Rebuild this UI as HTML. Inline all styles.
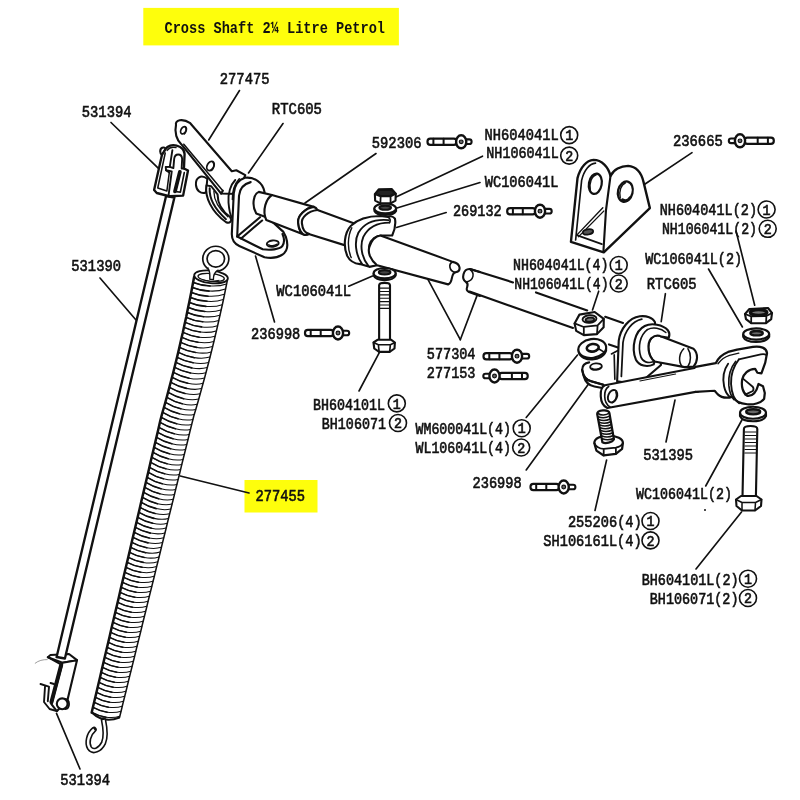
<!DOCTYPE html>
<html lang="en"><head><meta charset="utf-8"><title>Cross Shaft 2¼ Litre Petrol</title>
<style>
html,body{margin:0;padding:0;background:#fff;}
body{width:800px;height:800px;overflow:hidden;}
svg{display:block;}
.t{font-family:"Liberation Mono", "DejaVu Sans Mono", monospace;fill:#111;stroke:#111;stroke-width:.62px;}
.tb{font-family:"Liberation Mono", "DejaVu Sans Mono", monospace;font-weight:bold;fill:#111;}
.tc{font-family:"Liberation Mono", "DejaVu Sans Mono", monospace;fill:#111;stroke:#111;stroke-width:.7px;}
.l{fill:none;stroke:#111;stroke-linecap:round;stroke-linejoin:round;}
.lw{fill:#fff;stroke:#111;stroke-linecap:round;stroke-linejoin:round;}
.z path,.z ellipse,.z circle,.z line,.z polyline,.z polygon,.z rect{vector-effect:non-scaling-stroke;}
</style></head><body>
<svg width="800" height="800" viewBox="0 0 800 800" style="will-change:transform;transform:translateZ(0)">
<rect width="800" height="800" fill="#fff"/>
<rect x="143.3" y="7.9" width="255.6" height="37.5" fill="#fefe0c"/>
<rect x="244.5" y="480" width="73" height="32.5" fill="#fefe0c"/>
<line class="l" x1="239.5" y1="90.5" x2="208.7" y2="140.0" stroke-width="1.65"/>
<line class="l" x1="111.0" y1="122.5" x2="158.7" y2="168.7" stroke-width="1.65"/>
<line class="l" x1="283.0" y1="123.5" x2="248.5" y2="173.0" stroke-width="1.65"/>
<line class="l" x1="376.0" y1="153.5" x2="305.0" y2="203.0" stroke-width="1.65"/>
<line class="l" x1="482.5" y1="156.2" x2="396.0" y2="197.0" stroke-width="1.65"/>
<line class="l" x1="480.0" y1="182.5" x2="397.0" y2="208.0" stroke-width="1.65"/>
<line class="l" x1="446.2" y1="212.5" x2="396.5" y2="227.5" stroke-width="1.65"/>
<line class="l" x1="692.0" y1="152.6" x2="644.7" y2="184.2" stroke-width="1.65"/>
<line class="l" x1="736.0" y1="231.0" x2="754.7" y2="305.2" stroke-width="1.65"/>
<line class="l" x1="708.5" y1="269.0" x2="742.4" y2="327.0" stroke-width="1.65"/>
<line class="l" x1="665.4" y1="293.7" x2="661.2" y2="321.7" stroke-width="1.65"/>
<line class="l" x1="598.7" y1="291.2" x2="592.5" y2="310.0" stroke-width="1.65"/>
<line class="l" x1="348.7" y1="286.2" x2="372.5" y2="276.0" stroke-width="1.65"/>
<line class="l" x1="255.5" y1="256.0" x2="274.5" y2="322.0" stroke-width="1.65"/>
<line class="l" x1="100.0" y1="278.0" x2="136.0" y2="320.0" stroke-width="1.65"/>
<line class="l" x1="427.5" y1="278.7" x2="460.3" y2="339.7" stroke-width="1.65"/>
<line class="l" x1="477.0" y1="295.6" x2="460.3" y2="339.7" stroke-width="1.65"/>
<line class="l" x1="379.7" y1="351.9" x2="359.0" y2="391.0" stroke-width="1.65"/>
<line class="l" x1="526.2" y1="417.5" x2="577.5" y2="355.0" stroke-width="1.65"/>
<line class="l" x1="526.2" y1="470.0" x2="588.7" y2="383.7" stroke-width="1.65"/>
<line class="l" x1="675.0" y1="400.0" x2="666.0" y2="442.0" stroke-width="1.65"/>
<line class="l" x1="743.0" y1="418.0" x2="705.7" y2="486.0" stroke-width="1.65"/>
<line class="l" x1="606.6" y1="460.0" x2="595.0" y2="510.5" stroke-width="1.65"/>
<line class="l" x1="741.5" y1="512.0" x2="696.0" y2="569.0" stroke-width="1.65"/>
<line class="l" x1="180.2" y1="476.0" x2="249.0" y2="493.0" stroke-width="1.65"/>
<line class="l" x1="56.5" y1="713.4" x2="80.0" y2="769.0" stroke-width="1.65"/>
<circle cx="705" cy="510" r="1" fill="#111"/>
<g class="z" transform="translate(30,640) scale(0.1)" stroke="#111" stroke-width="2.12" fill="none" stroke-linejoin="round" stroke-linecap="round">
<!-- bottom clevis 531394 ; coords = zoom px of [30,640,100,720] (10x) -->
<path d="M105 440 L188 466 M150 468 L140 620 L196 690 L268 712 M190 468 L178 612 M205 430 L240 440" stroke-width="1.89"/>
<path d="M178 172 L205 150 L390 140 L470 202 L325 228 Z" fill="#fff"/>
<path d="M325 228 L470 202 L376 596 L268 712 L214 642 Z" fill="#fff"/>
<path d="M178 172 L300 238" stroke-width="1.89"/>
<path d="M312 250 L214 622" stroke-width="4.01"/>
<path d="M350 588 C404 594 404 684 352 692" stroke-width="1.77" fill="#fff"/>
<circle cx="322" cy="638" r="54" fill="#fff" stroke-width="2.12"/>
<path d="M52 232 C85 205 130 195 172 196" stroke-width="0.83" stroke="#888"/>
</g>

<g id="rod">
<path d="M166.1 196 L56.6 657 L64.9 658.5 L174.4 197.5 Z" fill="#fff" stroke="#111" stroke-width="2.36" stroke-linejoin="round"/>
</g>
<g id="spring">
<ellipse cx="215.8" cy="258.8" rx="10.9" ry="10.4" fill="none" stroke="#111" stroke-width="6"/>
<ellipse cx="215.8" cy="258.8" rx="10.9" ry="10.4" fill="none" stroke="#fff" stroke-width="2.6"/>
<path d="M207.6 267.5 C209.5 270 209.8 274 209.6 279 L213.6 279.5 C213.4 275 215 271.5 218.5 269.8" fill="#fff" stroke="#111" stroke-width="1.3" stroke-linejoin="round"/>
<path d="M194.1 278.0 L192.1 288.9 L189.9 299.7 L187.7 310.6 L185.4 321.4 L183.0 332.3 L180.5 343.2 L178.0 354.0 L175.3 364.9 L172.6 375.8 L169.8 386.6 L166.8 397.5 L163.8 408.4 L160.9 419.2 L158.3 430.1 L155.8 440.9 L153.2 451.8 L150.7 462.7 L148.1 473.5 L145.5 484.4 L143.0 495.2 L140.4 506.1 L137.9 517.0 L135.3 527.8 L132.8 538.7 L130.2 549.6 L127.7 560.4 L125.1 571.3 L122.6 582.1 L120.0 593.0 L117.5 603.9 L114.9 614.7 L112.3 625.6 L109.8 636.5 L107.2 647.3 L104.7 658.2 L102.1 669.0 L99.6 679.9 L97.0 690.8 L94.5 701.6 L91.9 712.5 Q107.0 723.5 119.3 717.5 L119.6 716.5 L122.2 705.6 L124.9 694.8 L127.6 683.9 L130.3 673.0 L133.0 662.2 L135.6 651.3 L138.3 640.5 L141.0 629.6 L143.7 618.7 L146.3 607.9 L149.0 597.0 L151.7 586.1 L154.4 575.3 L157.0 564.4 L159.7 553.6 L162.4 542.7 L165.1 531.8 L167.7 521.0 L170.4 510.1 L173.1 499.2 L175.8 488.4 L178.4 477.5 L181.1 466.7 L183.8 455.8 L186.5 444.9 L189.1 434.1 L191.8 423.2 L194.7 412.4 L197.9 401.5 L200.9 390.6 L203.9 379.8 L206.8 368.9 L209.6 358.0 L212.3 347.2 L215.0 336.3 L217.5 325.4 L220.0 314.6 L222.4 303.7 L224.6 292.9 L226.8 282.0 Z" fill="#fff" stroke="none"/>
<ellipse cx="211.0" cy="276.8" rx="16.9" ry="6.3" transform="rotate(6 210.4 277.0)" fill="#fff" stroke="#111" stroke-width="1.9"/>
<ellipse cx="211.2" cy="277.4" rx="13.2" ry="3.9" transform="rotate(6 210.4 277.0)" fill="#fff" stroke="#111" stroke-width="1.3"/>
<path d="M202.4 279.8 q8 3 17 0.5" fill="none" stroke="#111" stroke-width="1"/>
<path d="M208.2 268.6 C209.9 271 210 275 209.8 279.3 L213.4 279.6 C213.3 275.5 214.6 272.3 217.6 270.4" fill="#fff" stroke="#111" stroke-width="1.4" stroke-linejoin="round"/>
<path d="M193.3 282.4C203.2 286.4 217.2 287.4 226.4 283.9M192.4 287.4C202.3 291.5 216.2 292.5 225.4 289.0M191.4 292.4C201.3 296.6 215.1 297.7 224.3 294.3M190.4 297.4C200.3 301.6 214.0 302.9 223.2 299.5M189.4 302.4C199.2 306.7 213.0 308.0 222.1 304.7M188.4 307.4C198.2 311.8 211.9 313.2 221.0 310.0M187.3 312.4C197.1 316.8 210.7 318.4 219.8 315.2M186.3 317.4C196.0 321.9 209.6 323.6 218.7 320.4M185.2 322.4C194.9 327.0 208.4 328.8 217.5 325.7M184.1 327.4C193.7 332.1 207.2 333.9 216.2 330.9M183.0 332.4C192.6 337.1 206.0 339.1 215.0 336.2M181.9 337.4C191.4 342.2 204.8 344.3 213.7 341.4M180.7 342.4C190.2 347.3 203.6 349.5 212.5 346.6M179.5 347.4C189.0 352.3 202.3 354.7 211.2 351.9M178.4 352.4C187.8 357.4 201.0 359.8 209.9 357.1M177.2 357.4C186.6 362.5 199.7 365.0 208.5 362.4M175.9 362.4C185.3 367.6 198.4 370.2 207.2 367.6M174.7 367.4C184.0 372.6 197.1 375.4 205.8 372.8M173.4 372.4C182.7 377.7 195.7 380.6 204.4 378.1M172.2 377.4C181.4 382.8 194.3 385.7 203.0 383.3M170.9 382.4C180.1 387.8 192.9 390.9 201.5 388.6M169.5 387.4C178.7 392.9 191.5 396.1 200.1 393.8M168.2 392.4C177.3 398.0 190.1 401.3 198.6 399.0M166.9 397.4C175.9 403.1 188.6 406.5 197.1 404.3M165.5 402.4C174.5 408.1 187.2 411.5 195.6 409.4M164.1 407.4C173.1 413.1 185.7 416.5 194.1 414.4M162.7 412.4C171.7 418.1 184.3 421.5 192.8 419.4M161.3 417.4C170.4 423.1 183.1 426.5 191.5 424.4M160.1 422.4C169.2 428.1 181.9 431.5 190.3 429.4M158.9 427.4C168.0 433.1 180.6 436.5 189.1 434.4M157.8 432.4C166.8 438.1 179.4 441.5 187.8 439.4M156.6 437.4C165.6 443.1 178.2 446.5 186.6 444.4M155.4 442.4C164.4 448.1 177.0 451.5 185.4 449.4M154.2 447.4C163.2 453.1 175.8 456.5 184.1 454.4M153.1 452.4C162.0 458.1 174.6 461.5 182.9 459.4M151.9 457.4C160.8 463.1 173.3 466.5 181.7 464.4M150.7 462.4C159.6 468.1 172.1 471.5 180.5 469.4M149.5 467.4C158.4 473.1 170.9 476.5 179.2 474.4M148.4 472.4C157.2 478.1 169.7 481.5 178.0 479.4M147.2 477.4C156.1 483.1 168.5 486.5 176.8 484.4M146.0 482.4C154.9 488.1 167.3 491.5 175.5 489.4M144.8 487.4C153.7 493.1 166.0 496.5 174.3 494.4M143.7 492.4C152.5 498.1 164.8 501.5 173.1 499.3M142.5 497.4C151.3 503.0 163.7 506.3 171.9 504.1M141.3 502.4C150.1 508.0 162.5 511.2 170.7 508.9M140.1 507.4C149.0 512.9 161.3 516.0 169.5 513.7M139.0 512.4C147.8 517.8 160.1 520.9 168.4 518.5M137.8 517.4C146.6 522.8 158.9 525.7 167.2 523.3M136.6 522.4C145.4 527.7 157.8 530.6 166.0 528.1M135.4 527.4C144.2 532.7 156.6 535.4 164.8 532.9M134.3 532.4C143.1 537.6 155.4 540.3 163.6 537.7M133.1 537.4C141.9 542.5 154.2 545.1 162.4 542.5M131.9 542.4C140.7 547.5 153.0 550.0 161.3 547.3M130.7 547.4C139.5 552.4 151.9 554.8 160.1 552.1M129.6 552.4C138.4 557.4 150.7 559.7 158.9 556.9M128.4 557.4C137.2 562.3 149.5 564.5 157.7 561.7M127.2 562.4C136.0 567.2 148.3 569.4 156.5 566.5M126.0 567.4C134.8 572.2 147.1 574.2 155.3 571.3M124.9 572.4C133.6 577.1 145.9 579.1 154.1 576.2M123.7 577.4C132.4 582.1 144.7 584.1 152.9 581.2M122.5 582.4C131.2 587.1 143.5 589.1 151.7 586.2M121.3 587.4C130.1 592.1 142.3 594.1 150.4 591.2M120.1 592.4C128.9 597.1 141.1 599.1 149.2 596.2M119.0 597.4C127.7 602.1 139.9 604.1 148.0 601.2M117.8 602.4C126.5 607.1 138.6 609.1 146.7 606.2M116.6 607.4C125.3 612.1 137.4 614.1 145.5 611.2M115.4 612.4C124.1 617.1 136.2 619.1 144.3 616.2M114.3 617.4C122.9 622.1 135.0 624.1 143.0 621.2M113.1 622.4C121.7 627.1 133.8 629.1 141.8 626.2M111.9 627.4C120.5 632.1 132.6 634.1 140.6 631.2M110.7 632.4C119.3 637.1 131.3 639.1 139.4 636.2M109.6 637.4C118.1 642.1 130.1 644.1 138.1 641.2M108.4 642.4C116.9 647.1 128.9 649.1 136.9 646.2M107.2 647.4C115.8 652.1 127.7 654.1 135.7 651.2M106.0 652.4C114.6 657.1 126.5 659.1 134.4 656.2M104.9 657.4C113.4 662.1 125.3 664.1 133.2 661.2M103.7 662.4C112.2 667.1 124.0 669.1 132.0 666.2M102.5 667.4C111.0 672.1 122.8 674.1 130.7 671.2M101.3 672.4C109.8 677.1 121.6 679.1 129.5 676.2M100.2 677.4C108.6 682.1 120.4 684.1 128.3 681.2M99.0 682.4C107.4 687.1 119.2 689.1 127.0 686.2M97.8 687.4C106.2 692.1 118.0 694.1 125.8 691.2M96.6 692.4C105.0 697.1 116.8 699.1 124.6 696.2M95.5 697.4C103.8 702.1 115.5 704.1 123.3 701.2M94.3 702.4C102.6 707.1 114.3 709.1 122.1 706.2M93.1 707.4C101.4 712.1 113.1 714.1 120.9 711.2M91.9 712.4C100.3 717.1 111.9 719.1 119.6 716.2" fill="none" stroke="#111" stroke-width="1.05" stroke-linecap="round"/>
<path d="M193.3 282.4C198.3 284.4 204.2 285.7 210.1 286.0M192.4 287.4C197.3 289.4 203.3 290.7 209.1 291.1M191.4 292.4C196.3 294.5 202.3 295.8 208.1 296.2M190.4 297.4C195.3 299.5 201.2 300.9 207.1 301.3M189.4 302.4C194.3 304.5 200.2 306.0 206.0 306.4M188.4 307.4C193.3 309.6 199.1 311.0 204.9 311.5M187.3 312.4C192.2 314.6 198.1 316.1 203.8 316.7M186.3 317.4C191.1 319.7 197.0 321.2 202.7 321.8M185.2 322.4C190.0 324.7 195.8 326.3 201.6 326.9M184.1 327.4C188.9 329.7 194.7 331.4 200.4 332.0M183.0 332.4C187.8 334.8 193.6 336.4 199.2 337.2M181.9 337.4C186.6 339.8 192.4 341.5 198.0 342.3M180.7 342.4C185.5 344.8 191.2 346.6 196.8 347.4M179.5 347.4C184.3 349.9 190.0 351.7 195.6 352.5M178.4 352.4C183.1 354.9 188.8 356.8 194.3 357.7M177.2 357.4C181.9 359.9 187.5 361.8 193.1 362.8M175.9 362.4C180.6 365.0 186.2 366.9 191.8 367.9M174.7 367.4C179.4 370.0 185.0 372.0 190.5 373.0M173.4 372.4C178.1 375.1 183.6 377.1 189.1 378.2M172.2 377.4C176.8 380.1 182.3 382.2 187.8 383.3M170.9 382.4C175.5 385.1 181.0 387.3 186.4 388.4M169.5 387.4C174.1 390.2 179.6 392.3 185.0 393.5M168.2 392.4C172.8 395.2 178.2 397.4 183.6 398.7M166.9 397.4C171.4 400.2 176.8 402.5 182.2 403.8M165.5 402.4C170.0 405.2 175.4 407.5 180.8 408.8M164.1 407.4C168.6 410.2 174.0 412.5 179.3 413.8M162.7 412.4C167.2 415.2 172.6 417.5 178.0 418.8M161.3 417.4C165.8 420.2 171.3 422.5 176.6 423.8M160.1 422.4C164.6 425.2 170.1 427.5 175.4 428.8M158.9 427.4C163.5 430.2 168.9 432.5 174.2 433.8M157.8 432.4C162.3 435.2 167.7 437.5 173.0 438.8M156.6 437.4C161.1 440.2 166.5 442.5 171.8 443.8M155.4 442.4C159.9 445.2 165.3 447.5 170.6 448.8M154.2 447.4C158.7 450.2 164.1 452.5 169.4 453.8M153.1 452.4C157.5 455.2 162.9 457.5 168.2 458.8M151.9 457.4C156.4 460.2 161.7 462.5 167.0 463.8M150.7 462.4C155.2 465.2 160.5 467.5 165.8 468.8M149.5 467.4C154.0 470.2 159.3 472.5 164.6 473.8M148.4 472.4C152.8 475.2 158.1 477.5 163.4 478.8M147.2 477.4C151.6 480.2 156.9 482.5 162.2 483.8M146.0 482.4C150.4 485.2 155.8 487.5 161.0 488.8M144.8 487.4C149.3 490.2 154.6 492.5 159.8 493.8M143.7 492.4C148.1 495.2 153.4 497.5 158.6 498.8M142.5 497.4C146.9 500.2 152.2 502.4 157.4 503.7M141.3 502.4C145.7 505.2 151.0 507.4 156.2 508.6M140.1 507.4C144.5 510.1 149.8 512.3 155.1 513.5M139.0 512.4C143.4 515.1 148.7 517.2 153.9 518.4M137.8 517.4C142.2 520.1 147.5 522.2 152.7 523.3M136.6 522.4C141.0 525.1 146.3 527.1 151.5 528.2M135.4 527.4C139.8 530.0 145.1 532.0 150.3 533.1M134.3 532.4C138.7 535.0 143.9 537.0 149.2 538.0M133.1 537.4C137.5 540.0 142.8 541.9 148.0 542.9M131.9 542.4C136.3 544.9 141.6 546.8 146.8 547.8M130.7 547.4C135.1 549.9 140.4 551.8 145.6 552.7M129.6 552.4C134.0 554.9 139.2 556.7 144.4 557.5M128.4 557.4C132.8 559.8 138.1 561.6 143.3 562.4M127.2 562.4C131.6 564.8 136.9 566.6 142.1 567.3M126.0 567.4C130.4 569.8 135.7 571.5 140.9 572.2M124.9 572.4C129.2 574.8 134.5 576.5 139.7 577.2M123.7 577.4C128.1 579.8 133.3 581.5 138.5 582.2M122.5 582.4C126.9 584.8 132.1 586.5 137.3 587.2M121.3 587.4C125.7 589.8 130.9 591.5 136.1 592.2M120.1 592.4C124.5 594.8 129.7 596.5 134.9 597.2M119.0 597.4C123.3 599.8 128.5 601.5 133.7 602.2M117.8 602.4C122.1 604.8 127.3 606.5 132.5 607.2M116.6 607.4C121.0 609.8 126.2 611.5 131.3 612.2M115.4 612.4C119.8 614.8 125.0 616.5 130.1 617.2M114.3 617.4C118.6 619.8 123.8 621.5 128.9 622.2M113.1 622.4C117.4 624.8 122.6 626.5 127.7 627.2M111.9 627.4C116.2 629.8 121.4 631.5 126.5 632.2M110.7 632.4C115.0 634.8 120.2 636.5 125.3 637.2M109.6 637.4C113.9 639.8 119.0 641.5 124.1 642.2M108.4 642.4C112.7 644.8 117.8 646.5 122.9 647.2M107.2 647.4C111.5 649.8 116.6 651.5 121.7 652.2M106.0 652.4C110.3 654.8 115.4 656.5 120.4 657.2M104.9 657.4C109.1 659.8 114.2 661.5 119.2 662.2M103.7 662.4C107.9 664.8 113.0 666.5 118.0 667.2M102.5 667.4C106.7 669.8 111.8 671.5 116.8 672.2M101.3 672.4C105.6 674.8 110.6 676.5 115.6 677.2M100.2 677.4C104.4 679.8 109.4 681.5 114.4 682.2M99.0 682.4C103.2 684.8 108.2 686.5 113.2 687.2M97.8 687.4C102.0 689.8 107.1 691.5 112.0 692.2M96.6 692.4C100.8 694.8 105.9 696.5 110.8 697.2M95.5 697.4C99.6 699.8 104.7 701.5 109.6 702.2M94.3 702.4C98.5 704.8 103.5 706.5 108.4 707.2M93.1 707.4C97.3 709.8 102.3 711.5 107.2 712.2M91.9 712.4C96.1 714.8 101.1 716.5 106.0 717.2" fill="none" stroke="#111" stroke-width="1.6" stroke-linecap="round"/>
<path d="M194.1 277.0 L192.6 285.0 L191.1 293.0 L189.5 301.0 L187.8 309.0 L186.2 317.0 L184.4 325.0 L182.7 333.0 L180.8 341.0 L179.0 349.0 L177.1 357.0 L175.1 365.0 L173.1 373.0 L171.0 381.0 L168.9 389.0 L166.8 397.0 L164.6 405.0 L162.3 413.0 L160.2 421.0 L158.4 429.0 L156.5 437.0 L154.6 445.0 L152.7 453.0 L150.8 461.0 L149.0 469.0 L147.1 477.0 L145.2 485.0 L143.3 493.0 L141.4 501.0 L139.6 509.0 L137.7 517.0 L135.8 525.0 L133.9 533.0 L132.0 541.0 L130.2 549.0 L128.3 557.0 L126.4 565.0 L124.5 573.0 L122.6 581.0 L120.7 589.0 L118.9 597.0 L117.0 605.0 L115.1 613.0 L113.2 621.0 L111.3 629.0 L109.5 637.0 L107.6 645.0 L105.7 653.0 L103.8 661.0 L101.9 669.0 L100.1 677.0 L98.2 685.0 L96.3 693.0 L94.4 701.0 L92.5 709.0 L91.7 712.5" fill="none" stroke="#111" stroke-width="2.5" stroke-linecap="round" stroke-linejoin="round"/>
<path d="M227.4 280.0 L225.8 288.0 L224.2 296.0 L222.5 304.0 L220.7 312.0 L218.9 320.0 L217.1 328.0 L215.2 336.0 L213.3 344.0 L211.3 352.0 L209.3 360.0 L207.2 368.0 L205.1 376.0 L202.9 384.0 L200.7 392.0 L198.5 400.0 L196.2 408.0 L193.8 416.0 L191.8 424.0 L189.8 432.0 L187.9 440.0 L185.9 448.0 L183.9 456.0 L181.9 464.0 L180.0 472.0 L178.0 480.0 L176.0 488.0 L174.1 496.0 L172.1 504.0 L170.1 512.0 L168.1 520.0 L166.2 528.0 L164.2 536.0 L162.2 544.0 L160.3 552.0 L158.3 560.0 L156.3 568.0 L154.4 576.0 L152.4 584.0 L150.4 592.0 L148.4 600.0 L146.5 608.0 L144.5 616.0 L142.5 624.0 L140.6 632.0 L138.6 640.0 L136.6 648.0 L134.7 656.0 L132.7 664.0 L130.7 672.0 L128.7 680.0 L126.8 688.0 L124.8 696.0 L122.8 704.0 L120.9 712.0 L119.5 717.5" fill="none" stroke="#111" stroke-width="1.5" stroke-linecap="round" stroke-linejoin="round"/>
<path d="M91.7 712.5 Q104.0 724.0 119.5 717.5" fill="none" stroke="#111" stroke-width="2"/>
<path d="M103.5 720 C105 727 106.5 736 103.5 743 C100 750 93 753 89.5 748 C86.500 743 88.500 734 94 729.5" fill="none" stroke="#111" stroke-width="5.6" stroke-linecap="round"/>
<path d="M103.5 720 C105 727 106.5 736 103.5 743 C100 750 93 753 89.5 748 C86.500 743 88.500 734 94 729.5" fill="none" stroke="#fff" stroke-width="2.4" stroke-linecap="butt"/>
</g>
<g class="z" transform="translate(148,140) scale(0.0813)" stroke="#111" stroke-width="2.12" fill="none" stroke-linejoin="round" stroke-linecap="round">
<!-- top clevis 531394; coords = zoom px of region [148,140,198,205] (12.3x) -->
<path d="M172 185 C148 170 138 112 175 95 C196 86 212 96 216 112 Z" fill="#fff"/>
<path d="M75 615 L172 182 L216 112 C240 70 300 52 352 70 C412 86 446 122 450 172 L442 350 L492 376 L432 684 L262 692 L108 652 Z" fill="#fff" stroke-width="2.36"/>
<path d="M212 160 L120 590 L232 628 L262 400" stroke-width="1.53"/>
<path d="M262 400 L222 372 L218 332 L268 330 L300 124" stroke-width="1.89"/>
<path d="M222 372 L292 386 L252 688" stroke-width="1.89"/>
<path d="M268 330 L312 346 L322 232 C330 160 415 160 420 232 L414 352 L442 350" stroke-width="1.89"/>
<path d="M392 392 L332 632" stroke-width="3.78"/>
<path d="M446 402 L398 642 L332 632" stroke-width="1.65"/>
<path d="M236 128 C258 98 300 82 345 94" stroke-width="1.42"/>
</g>

<g class="z" transform="translate(185,160) scale(0.0875)" stroke="#111" stroke-width="2.01" fill="none" stroke-linejoin="round" stroke-linecap="round">
<!-- hook + pin bump ; coords = zoom px of region [185,160,255,230] (11.43x) -->
<path d="M255 215 C185 160 118 200 125 285 C130 350 180 392 240 372 Z" fill="#fff"/>
<path d="M245 290 C225 420 300 590 470 712 C510 728 545 700 515 652 C430 590 372 500 372 392 L300 300 Z" fill="#fff"/>
<path d="M282 322 C275 450 350 570 468 676"/>
<path d="M330 360 C330 470 400 570 490 650" stroke-width="1.30"/>
</g>
<g class="z" transform="translate(140,110) scale(0.15)" stroke="#111" stroke-width="2.12" fill="none" stroke-linejoin="round" stroke-linecap="round">
<!-- lever arm 277475 ; coords = zoom px of region [140,110,260,230] (6.67x) -->
<path d="M240 100 C232 68 282 52 335 88 L612 408 L642 402 L702 434 L650 560 L541 557 L275 228 C245 200 228 150 240 100 Z" fill="#fff"/>
<path d="M292 228 L552 538" stroke-width="1.53"/>
<path d="M541 557 L552 538"/>
<ellipse cx="290" cy="135" rx="17" ry="26" transform="rotate(28 290 135)" stroke-width="1.77"/>
<path d="M300 112 C312 125 308 150 296 160" stroke-width="1.30"/>
<ellipse cx="470" cy="373" rx="22" ry="33" transform="rotate(28 470 373)" stroke-width="1.77"/>
<path d="M484 345 C498 362 492 392 478 404" stroke-width="1.30"/>
</g>

<g class="z" transform="translate(200,150) scale(0.15)" stroke="#111" stroke-width="2.12" fill="none" stroke-linejoin="round" stroke-linecap="round">
<!-- bracket 236998 (left) + bushing RTC605 ; coords = zoom px of region [200,150,320,270] (6.67x) -->
<!-- plate + foot silhouette -->
<path d="M300 185 C255 198 230 240 225 290 L212 560 C212 600 230 625 262 640 L430 715 C470 722 520 716 545 700 C582 680 592 640 572 578 L556 546 L440 440 L430 280 C420 215 360 178 300 185 Z" fill="#fff"/>
<!-- plate inner edge (thickness) -->
<path d="M338 214 C292 226 264 262 260 305 L248 577"/>
<!-- foot upper surface -->
<path d="M248 577 L418 662 C470 670 528 662 548 642 C566 618 562 588 550 560"/>
<!-- gusset -->
<path d="M250 575 L400 448 M274 590 L414 470"/>
<!-- foot hole -->
<ellipse cx="485" cy="624" rx="40" ry="21" transform="rotate(-8 485 624)" stroke-width="1.89"/>
<path d="M458 632 C475 640 500 638 515 628" stroke-width="1.42"/>
<!-- bushing ring arcs on plate -->
<path d="M235 200 C205 230 185 290 190 350 C194 400 200 430 212 450" stroke-width="1.89"/>
<path d="M262 192 C232 225 215 280 216 330" stroke-width="1.53"/>
</g>
<g class="z" transform="translate(255,180) scale(0.125)" stroke="#111" stroke-width="2.12" fill="none" stroke-linejoin="round" stroke-linecap="round">
<!-- shaft stub, sleeve, shaft ; coords = zoom px of region [255,180,355,260] (8x) -->
<!-- stub between bushing and sleeve -->
<path d="M30 95 C-10 110 -30 200 10 268 L95 300 L135 120 Z" fill="#fff"/>
<!-- thin shaft sleeve->clamp -->
<path d="M500 240 L800 350 L760 535 L430 430 Z" fill="#fff" stroke="none"/>
<path d="M500 240 L800 350 M430 432 L760 535"/>
<!-- sleeve -->
<path d="M135 120 C90 150 55 240 90 320 L400 440 C375 435 350 400 345 340 C340 290 400 225 470 215 Z" fill="#fff"/>
<path d="M470 215 C400 225 340 290 345 340 C350 400 375 435 400 440 C415 442 425 438 432 430 C400 425 380 395 375 345 C370 300 420 250 500 240 C492 225 482 218 470 215 Z" fill="#fff"/>
</g>

<g class="z" transform="translate(335,175) scale(0.1375)" stroke="#111" stroke-width="2.12" fill="none" stroke-linejoin="round" stroke-linecap="round">
<!-- clamp 269132 + nut + washers ; coords = zoom px of region [335,175,435,285] (7.27x) -->
<!-- clamp silhouette -->
<path d="M436 318 C422 298 400 298 386 306 L330 298 C250 298 170 315 115 370 C68 420 58 520 90 590 C110 630 150 645 182 648 L250 668 L306 656 C270 620 240 560 250 510 C262 465 300 440 336 440 L416 440 C434 400 442 350 436 318 Z" fill="#fff"/>
<path d="M390 328 C300 320 215 345 170 420 C138 482 150 582 196 646" stroke-width="1.89"/>
<path d="M122 384 C92 442 88 540 118 600" stroke-width="1.42"/>
<path d="M396 346 C300 346 236 390 206 450 C180 512 192 600 244 662" stroke-width="1.89"/>
<path d="M386 306 C402 316 406 332 396 346" stroke-width="1.65"/>
<!-- upper washer -->
<path d="M287 246 L287 262 C305 300 425 300 444 262 L444 246" fill="#fff"/>
<ellipse cx="365" cy="243" rx="79" ry="36" fill="#fff"/>
<ellipse cx="365" cy="238" rx="42" ry="15" fill="#444" stroke-width="2.12"/>
<!-- nut -->
<path d="M290 140 L318 104 L412 102 L442 136 L440 186 L404 206 L330 206 L292 186 Z" fill="#fff"/>
<path d="M300 134 L322 112 L408 110 L432 132 L402 150 L332 150 Z" fill="#222" stroke-width="1.18"/>
<path d="M290 140 L332 156 L404 156 L442 136 M332 156 L330 206 M404 156 L404 206" stroke-width="1.77"/>
</g>
<g class="z" transform="translate(330,170) scale(0.1875)" stroke="#111" stroke-width="2.12" fill="none" stroke-linejoin="round" stroke-linecap="round">
<!-- coords = zoom px of region [330,170,480,320] (5.33x) -->
<!-- shaft right of clamp, to the break -->
<path d="M269 349 L655 490 C700 500 700 540 670 545 C640 552 660 600 630 610 L251 508 C215 480 200 440 210 410 C222 375 245 352 269 349 Z" fill="#fff"/>
<path d="M655 490 C630 500 635 540 668 546" stroke-width="1.65"/>
</g>
<g class="z" transform="translate(335,175) scale(0.1375)" stroke="#111" stroke-width="2.12" fill="none" stroke-linejoin="round" stroke-linecap="round">
<!-- lower washer -->
<path d="M281 716 L281 732 C300 775 420 775 441 732 L441 716" fill="#fff"/>
<ellipse cx="361" cy="714" rx="80" ry="38" fill="#fff"/>
<ellipse cx="361" cy="708" rx="42" ry="16" fill="#444" stroke-width="2.12"/>
</g>
<g class="z" transform="translate(330,260) scale(0.1875)" stroke="#111" stroke-width="2.12" fill="none" stroke-linejoin="round" stroke-linecap="round">
<!-- long bolt BH604101L ; coords = zoom px of region [330,260,480,410] -->
<path d="M262 135 C262 118 320 118 320 135 L320 430 L262 430 Z" fill="#fff"/>
<path d="M268 150 L314 150 M268 168 L314 168 M268 186 L314 186 M268 204 L314 204 M268 222 L314 222 M268 240 L314 240 M268 258 L314 258" stroke-width="1.18"/>
<path d="M232 440 L255 425 L325 425 L346 440 L344 472 L318 490 L262 490 L236 472 Z" fill="#fff"/>
<path d="M262 490 L258 452 L322 452 L318 490 M232 440 L258 452 M322 452 L346 440" stroke-width="1.65"/>
</g>
<g stroke="#111" stroke-width="2.12" fill="none" stroke-linejoin="round" stroke-linecap="round">
<!-- second shaft segment break end (real coords) -->
<path d="M480 272 L470 269 C463 268.500 461 279 466 282 C471 285 463 289 469 292 L480 296 Z" fill="#fff" stroke="none"/>
<path d="M480 272 L470 269 C463 268.500 461 279 466 282 C471 285 463 289 469 292 L480 296"/>
<path d="M470 269.500 C475 273 474 280 466.500 282" stroke-width="1.53"/>
</g>
<g class="z" transform="translate(540,280) scale(0.2)" stroke="#111" stroke-width="2.12" fill="none" stroke-linejoin="round" stroke-linecap="round">
<!-- shaft segment 2 body up to the plate ; coords = zoom px of [540,280,700,440] (5x) -->
<path d="M-300 -37 L415 215 L390 338 L-300 77 Z" fill="#fff" stroke="none"/>
<path d="M-350 -55 L-135 12 M-20 62 L236 152 M326 184 L415 215 M-352 58 L165 240 M345 322 L390 338"/>
</g>
<g class="z" transform="translate(570,300) scale(0.1625)" stroke="#111" stroke-width="2.12" fill="none" stroke-linejoin="round" stroke-linecap="round">
<!-- right bracket, bushing, stub, nut, washer ; coords = zoom px of [570,300,700,420] (6.15x) -->
<!-- foot -->
<path d="M290 372 L132 382 C100 380 75 398 75 430 C80 470 100 492 130 500 L205 522 L215 545 L150 532 C120 526 95 510 85 470 L75 430" fill="#fff" stroke="none"/>
<path d="M118 384 C92 388 75 402 75 430 C80 470 100 492 130 500 L205 522 L215 545 L150 532 C120 526 95 510 85 470 L75 430"/>
<path d="M75 430 C80 470 100 492 130 500 L205 522" />
<ellipse cx="160" cy="410" rx="36" ry="20" transform="rotate(-6 160 410)" stroke-width="1.89"/>
<path d="M135 420 C150 430 175 428 190 416" stroke-width="1.42"/>
<!-- plate -->
<path d="M290 500 L300 250 C310 180 360 110 430 100 C470 95 510 108 522 135 L560 400 L420 520 Z" fill="#fff"/>
<path d="M316 470 L326 262 C336 192 380 132 442 118" stroke-width="1.77"/>
<path d="M255 332 L292 312 M272 338 L276 488" stroke-width="1.65"/>
<!-- stub shaft -->
<path d="M500 235 C520 218 545 216 562 225 L760 300 C792 330 786 382 760 410 L705 413 L520 378 C480 350 470 270 500 235 Z" fill="#fff"/>
<path d="M700 300 C670 330 666 380 690 410" stroke-width="1.53"/>
<path d="M726 300 C746 330 746 380 726 408" stroke-width="1.53"/>
<!-- bushing flange -->
<path d="M460 160 C500 140 572 150 602 186 C612 200 614 216 608 232 L562 225 C545 216 520 218 500 235 C470 270 480 350 520 378 L515 396 C475 416 425 406 405 366 C375 290 400 190 460 160 Z" fill="#fff"/>
<path d="M476 182 C430 216 416 290 436 350 C446 380 480 392 512 380" stroke-width="1.65"/>
<path d="M476 182 C510 165 560 172 590 200" stroke-width="1.53"/>
<!-- spring washer -->
<path d="M52 305 L54 322 C75 385 200 380 222 312 L222 296" fill="#fff"/>
<ellipse cx="137" cy="298" rx="86" ry="58" transform="rotate(-8 137 298)" fill="#fff"/>
<ellipse cx="140" cy="294" rx="37" ry="23" transform="rotate(-8 140 294)" stroke-width="2.60"/>
<path d="M128 318 C150 322 170 312 176 300 L205 318" stroke-width="1.53"/>
<!-- nut -->
<path d="M28 144 L58 90 L152 74 L208 116 L207 168 L166 210 L85 216 L38 190 Z" fill="#fff"/>
<path d="M28 144 L85 166 L170 156 L208 116 M85 166 L85 216 M170 156 L166 210" stroke-width="1.77"/>
<ellipse cx="120" cy="117" rx="43" ry="23" transform="rotate(-6 120 117)" stroke-width="1.89"/>
<ellipse cx="122" cy="121" rx="27" ry="12" transform="rotate(-6 122 121)" stroke-width="1.77" fill="#777"/>
<!-- lever 531395 (left part) -->
<path d="M215 525 L1000 373 L1000 524 L230 665 C176 640 180 540 215 525 Z" fill="#fff" stroke="none"/>
<path d="M790 413.400 L215 525 C180 540 176 640 230 665 L790 562.200"/>
<path d="M238 532 C206 552 202 630 246 658" stroke-width="1.65"/>
<ellipse cx="262" cy="592" rx="27" ry="40" transform="rotate(22 262 592)" stroke-width="1.89"/>
<path d="M282 566 C292 590 282 620 262 632" stroke-width="1.42"/>
<path d="M430 498 L650 456" stroke-width="1.06"/>
</g>
<g class="z" transform="translate(640,280) scale(0.2)" stroke="#111" stroke-width="2.12" fill="none" stroke-linejoin="round" stroke-linecap="round">
<!-- fork end, right nut/washers ; coords = zoom px of [640,280,800,440] (5x) -->
<!-- upper washer -->
<path d="M516 274 L516 284 C530 318 630 318 646 284 L646 274" fill="#fff"/>
<ellipse cx="581" cy="270" rx="65" ry="28" fill="#fff"/>
<ellipse cx="583" cy="266" rx="31" ry="11" stroke-width="2.36" fill="#666"/>
<!-- nut -->
<path d="M525 170 L547 145 L640 140 L660 165 L656 196 L630 216 L556 216 L530 196 Z" fill="#fff"/>
<path d="M525 170 L556 182 L632 180 L660 165 M556 182 L556 216 M632 180 L630 216" stroke-width="1.77"/>
<ellipse cx="593" cy="162" rx="42" ry="14" fill="#777" stroke-width="3.07"/>
<!-- lower washer -->
<path d="M500 668 L500 680 C515 715 615 715 630 680 L630 668" fill="#fff"/>
<ellipse cx="565" cy="664" rx="65" ry="30" fill="#fff"/>
<ellipse cx="566" cy="659" rx="35" ry="13" stroke-width="2.36" fill="#666"/>
</g>
<g class="z" transform="translate(700,330) scale(0.1125)" stroke="#111" stroke-width="2.24" fill="none" stroke-linejoin="round" stroke-linecap="round">
<!-- fork end of lever 531395 ; coords = zoom px of [700,330,790,420] (8.89x) -->
<path d="M-40 328 L140 295 C160 250 200 215 250 195 L330 175 L470 150 C540 140 590 160 596 205 L580 290 L546 386 L510 380 L490 345 C430 345 385 390 375 440 C365 500 380 560 420 585 C460 590 500 560 520 480 L560 500 L576 560 L570 612 C540 652 470 666 420 660 C360 655 310 632 290 592 C250 606 200 610 156 570 L130 540 L-40 550 Z" fill="#fff" stroke="none"/>
<path d="M-40 328 L140 295 C160 250 200 215 250 195 L330 175 L470 150 C540 140 590 160 596 205 L580 290 L546 386 L510 380 L490 345 C430 345 385 390 375 440 C365 500 380 560 420 585 C460 590 500 560 520 480 L560 500 L576 560 L570 612 C540 652 470 666 420 660 C360 655 310 632 290 592 C250 606 200 610 156 570 L130 540 L-40 550"/>
<path d="M345 262 C300 320 272 400 276 480 C280 560 305 622 350 652" stroke-width="1.89"/>
<path d="M318 278 C276 330 250 410 256 490 C262 550 275 590 300 618" stroke-width="1.65"/>
<path d="M250 300 C214 350 200 430 214 500 C222 540 238 570 262 592" stroke-width="1.89"/>
<path d="M345 262 L540 216 C560 212 580 214 590 222" stroke-width="1.77"/>
<path d="M160 300 C190 260 225 238 262 226 L345 206" stroke-width="1.42"/>
<path d="M382 432 L466 502 C478 515 478 530 470 542 L402 574" stroke-width="1.77"/>
</g>
<g stroke="#111" stroke-width="2.12" fill="none" stroke-linejoin="round" stroke-linecap="round">
<!-- long bolt (real coords) -->
<path d="M743.900 429 C743.900 425 757.300 425 757.300 429 L755.900 497 L742.500 497 Z" fill="#fff"/>
<path d="M745 432h11M745 435.500h11M745 439h11M745 442.500h11M745 446h11M745 449.500h11M744.800 453h11" stroke-width="1.06"/>
<path d="M736 499.500 L741 496 L756.500 496 L761.500 499.500 L761 506 L755 510.500 L742 510.500 L736.500 506 Z" fill="#fff"/>
<path d="M736 499.500 L742 502.500 L755.500 502.500 L761.500 499.500 M742 502.500 L742 510.500 M755.500 502.500 L755 510.500" stroke-width="1.53"/>
</g>
<g class="z" transform="translate(585,400) scale(0.0813)" stroke="#111" stroke-width="2.24" fill="none" stroke-linejoin="round" stroke-linecap="round">
<!-- short bolt 255206 ; coords = zoom px of [585,400,635,465] (12.3x) -->
<path d="M115 530 C112 470 200 436 290 438 C390 440 468 475 466 530 L456 602 L380 662 L230 682 L140 622 Z" fill="#fff"/>
<path d="M115 530 C130 572 180 602 230 602 L380 586 C420 576 455 556 466 530 M230 602 L230 682 M380 586 L380 662" stroke-width="1.77"/>
<path d="M150 172 C148 120 290 108 300 160 L356 484 C335 525 250 540 214 520 Z" fill="#fff"/>
<path d="M160 165 C190 195 265 190 296 160" stroke-width="1.53"/>
<path d="M162 205q70 28 142 -6M168 239q70 28 142 -6M175 273q70 28 142 -6M182 307q70 28 142 -6M188 341q70 28 142 -6M194 375q70 28 142 -6M201 409q70 28 142 -6M208 443q70 28 142 -6M214 477q70 28 142 -6" stroke-width="1.53"/>
</g>

<g class="z" transform="translate(540,120) scale(0.1875)" stroke="#111" stroke-width="2.12" fill="none" stroke-linejoin="round" stroke-linecap="round">
<!-- bracket 236665 ; coords = zoom px of [540,120,690,270] (5.33x) -->
<path d="M165 650 L200 310 C215 250 250 215 285 213 C330 213 365 250 376 298 C392 265 430 245 470 245 C510 248 540 280 552 330 L586 470 L340 706 Z" fill="#fff" stroke-width="2.36"/>
<path d="M376 298 L352 480 L338 704"/>
<path d="M190 640 L222 322 C235 266 265 233 296 230" stroke-width="1.65"/>
<ellipse cx="295" cy="340" rx="34" ry="55" transform="rotate(10 295 340)" stroke-width="2.24"/>
<path d="M268 372 C262 335 275 300 300 292" stroke-width="1.42"/>
<ellipse cx="455" cy="382" rx="39" ry="55" transform="rotate(14 455 382)" stroke-width="2.24"/>
<path d="M428 415 C420 380 432 345 456 335" stroke-width="1.42"/>
<path d="M440 425 C455 435 470 430 480 415" stroke-width="2.83"/>
<path d="M196 614 L335 468 M206 622 L340 486" stroke-width="1.42"/>
<path d="M196 614 L330 662" stroke-width="1.65"/>
<ellipse cx="256" cy="597" rx="28" ry="14" transform="rotate(-12 256 597)" fill="#555" stroke-width="1.77"/>
</g>

<text class="tb" x="164.5" y="33.2" font-size="15.8" textLength="220.5" lengthAdjust="spacingAndGlyphs">Cross Shaft 2¼ Litre Petrol</text>
<text class="t" x="255.6" y="500.8" font-size="15.6" textLength="49.4" lengthAdjust="spacingAndGlyphs">277455</text>
<text class="t" x="219.8" y="83.6" font-size="15.6" textLength="49.7" lengthAdjust="spacingAndGlyphs">277475</text>
<text class="t" x="81.8" y="117.2" font-size="15.6" textLength="49.7" lengthAdjust="spacingAndGlyphs">531394</text>
<text class="t" x="271.8" y="113.5" font-size="15.6" textLength="50.2" lengthAdjust="spacingAndGlyphs">RTC605</text>
<text class="t" x="371.8" y="147.5" font-size="15.6" textLength="49.7" lengthAdjust="spacingAndGlyphs">592306</text>
<rect class="lw" x="464.2" y="139.4" width="7.4" height="4.6" rx="2.3" stroke-width="2.1"/>
<rect class="lw" x="427.5" y="138.7" width="29.2" height="6.2" rx="2.8" stroke-width="2.2"/>
<line class="l" x1="433.4" y1="138.7" x2="433.4" y2="144.8" stroke-width="2"/>
<line class="l" x1="443.6" y1="138.7" x2="443.6" y2="144.8" stroke-width="2"/>
<ellipse class="lw" cx="461.2" cy="141.8" rx="5.1" ry="6.5" stroke-width="2.4"/>
<ellipse cx="461.2" cy="141.8" rx="1.9" ry="1.8" fill="#666" stroke="#111" stroke-width="1.2"/>
<text class="t" x="484.5" y="139.6" font-size="15.6" textLength="74.2" lengthAdjust="spacingAndGlyphs">NH604041L</text>
<circle class="l" cx="569.2" cy="135.1" r="8.5" stroke-width="1.6"/>
<text class="tc" x="569.2" y="140.2" font-size="15.5" text-anchor="middle" textLength="8" lengthAdjust="spacingAndGlyphs">1</text>
<text class="t" x="486.3" y="158.3" font-size="15.6" textLength="72.4" lengthAdjust="spacingAndGlyphs">NH106041L</text>
<circle class="l" cx="569.2" cy="155.6" r="8.5" stroke-width="1.6"/>
<text class="tc" x="569.2" y="160.7" font-size="15.5" text-anchor="middle" textLength="8" lengthAdjust="spacingAndGlyphs">2</text>
<text class="t" x="484.8" y="186.8" font-size="15.6" textLength="73.7" lengthAdjust="spacingAndGlyphs">WC106041L</text>
<text class="t" x="453.0" y="216.2" font-size="15.6" textLength="48.7" lengthAdjust="spacingAndGlyphs">269132</text>
<rect class="lw" x="543.0" y="208.9" width="8.7" height="4.6" rx="2.3" stroke-width="2.1"/>
<rect class="lw" x="507.2" y="208.2" width="28.3" height="6.2" rx="2.8" stroke-width="2.2"/>
<line class="l" x1="512.9" y1="208.2" x2="512.9" y2="214.3" stroke-width="2"/>
<line class="l" x1="522.8" y1="208.2" x2="522.8" y2="214.3" stroke-width="2"/>
<ellipse class="lw" cx="540.0" cy="211.2" rx="5.1" ry="6.5" stroke-width="2.4"/>
<ellipse cx="540.0" cy="211.2" rx="1.9" ry="1.8" fill="#666" stroke="#111" stroke-width="1.2"/>
<text class="t" x="672.9" y="146.3" font-size="15.6" textLength="49.9" lengthAdjust="spacingAndGlyphs">236665</text>
<rect class="lw" x="728.8" y="138.5" width="8.2" height="4.6" rx="2.3" stroke-width="2.1"/>
<rect class="lw" x="744.5" y="137.7" width="29.3" height="6.2" rx="2.8" stroke-width="2.2"/>
<line class="l" x1="767.9" y1="137.7" x2="767.9" y2="143.9" stroke-width="2"/>
<line class="l" x1="757.7" y1="137.7" x2="757.7" y2="143.9" stroke-width="2"/>
<ellipse class="lw" cx="740.0" cy="140.8" rx="5.1" ry="6.5" stroke-width="2.4"/>
<ellipse cx="740.0" cy="140.8" rx="1.9" ry="1.8" fill="#666" stroke="#111" stroke-width="1.2"/>
<text class="t" x="659.7" y="215.0" font-size="15.6" textLength="97.3" lengthAdjust="spacingAndGlyphs">NH604041L(2)</text>
<circle class="l" cx="766.6" cy="209.5" r="8.5" stroke-width="1.6"/>
<text class="tc" x="766.6" y="214.6" font-size="15.5" text-anchor="middle" textLength="8" lengthAdjust="spacingAndGlyphs">1</text>
<text class="t" x="661.9" y="234.3" font-size="15.6" textLength="95.1" lengthAdjust="spacingAndGlyphs">NH106041L(2)</text>
<circle class="l" cx="767.7" cy="228.8" r="8.5" stroke-width="1.6"/>
<text class="tc" x="767.7" y="233.9" font-size="15.5" text-anchor="middle" textLength="8" lengthAdjust="spacingAndGlyphs">2</text>
<text class="t" x="645.3" y="264.0" font-size="15.6" textLength="96.7" lengthAdjust="spacingAndGlyphs">WC106041L(2)</text>
<text class="t" x="513.0" y="270.0" font-size="15.6" textLength="95.5" lengthAdjust="spacingAndGlyphs">NH604041L(4)</text>
<circle class="l" cx="618.7" cy="265.0" r="8.5" stroke-width="1.6"/>
<text class="tc" x="618.7" y="270.1" font-size="15.5" text-anchor="middle" textLength="8" lengthAdjust="spacingAndGlyphs">1</text>
<text class="t" x="514.3" y="288.5" font-size="15.6" textLength="94.2" lengthAdjust="spacingAndGlyphs">NH106041L(4)</text>
<circle class="l" cx="618.7" cy="283.5" r="8.5" stroke-width="1.6"/>
<text class="tc" x="618.7" y="288.6" font-size="15.5" text-anchor="middle" textLength="8" lengthAdjust="spacingAndGlyphs">2</text>
<text class="t" x="646.8" y="288.7" font-size="15.6" textLength="49.9" lengthAdjust="spacingAndGlyphs">RTC605</text>
<text class="t" x="276.3" y="296.0" font-size="15.6" textLength="74.7" lengthAdjust="spacingAndGlyphs">WC106041L</text>
<text class="t" x="251.1" y="338.5" font-size="15.6" textLength="49.2" lengthAdjust="spacingAndGlyphs">236998</text>
<rect class="lw" x="341.0" y="330.7" width="8.2" height="4.6" rx="2.3" stroke-width="2.1"/>
<rect class="lw" x="305.0" y="329.9" width="28.5" height="6.2" rx="2.8" stroke-width="2.2"/>
<line class="l" x1="310.7" y1="329.9" x2="310.7" y2="336.1" stroke-width="2"/>
<line class="l" x1="320.7" y1="329.9" x2="320.7" y2="336.1" stroke-width="2"/>
<ellipse class="lw" cx="338.0" cy="333.0" rx="5.1" ry="6.5" stroke-width="2.4"/>
<ellipse cx="338.0" cy="333.0" rx="1.9" ry="1.8" fill="#666" stroke="#111" stroke-width="1.2"/>
<text class="t" x="71.3" y="271.2" font-size="15.6" textLength="49.7" lengthAdjust="spacingAndGlyphs">531390</text>
<text class="t" x="426.8" y="358.7" font-size="15.6" textLength="48.7" lengthAdjust="spacingAndGlyphs">577304</text>
<rect class="lw" x="520.0" y="353.9" width="9.2" height="4.6" rx="2.3" stroke-width="2.1"/>
<rect class="lw" x="483.5" y="353.1" width="29.0" height="6.2" rx="2.8" stroke-width="2.2"/>
<line class="l" x1="489.3" y1="353.1" x2="489.3" y2="359.3" stroke-width="2"/>
<line class="l" x1="499.4" y1="353.1" x2="499.4" y2="359.3" stroke-width="2"/>
<ellipse class="lw" cx="517.0" cy="356.2" rx="5.1" ry="6.5" stroke-width="2.4"/>
<ellipse cx="517.0" cy="356.2" rx="1.9" ry="1.8" fill="#666" stroke="#111" stroke-width="1.2"/>
<text class="t" x="426.8" y="378.2" font-size="15.6" textLength="48.7" lengthAdjust="spacingAndGlyphs">277153</text>
<rect class="lw" x="483.3" y="373.7" width="8.2" height="4.6" rx="2.3" stroke-width="2.1"/>
<rect class="lw" x="499.0" y="372.9" width="28.7" height="6.2" rx="2.8" stroke-width="2.2"/>
<line class="l" x1="522.0" y1="372.9" x2="522.0" y2="379.1" stroke-width="2"/>
<line class="l" x1="511.9" y1="372.9" x2="511.9" y2="379.1" stroke-width="2"/>
<ellipse class="lw" cx="494.5" cy="376.0" rx="5.1" ry="6.5" stroke-width="2.4"/>
<ellipse cx="494.5" cy="376.0" rx="1.9" ry="1.8" fill="#666" stroke="#111" stroke-width="1.2"/>
<text class="t" x="313.0" y="409.5" font-size="15.6" textLength="72.0" lengthAdjust="spacingAndGlyphs">BH604101L</text>
<circle class="l" cx="396.8" cy="403.4" r="8.5" stroke-width="1.6"/>
<text class="tc" x="396.8" y="408.5" font-size="15.5" text-anchor="middle" textLength="8" lengthAdjust="spacingAndGlyphs">1</text>
<text class="t" x="321.8" y="428.7" font-size="15.6" textLength="64.2" lengthAdjust="spacingAndGlyphs">BH106071</text>
<circle class="l" cx="398.0" cy="423.0" r="8.5" stroke-width="1.6"/>
<text class="tc" x="398.0" y="428.1" font-size="15.5" text-anchor="middle" textLength="8" lengthAdjust="spacingAndGlyphs">2</text>
<text class="t" x="415.5" y="433.7" font-size="15.6" textLength="95.5" lengthAdjust="spacingAndGlyphs">WM600041L(4)</text>
<circle class="l" cx="521.7" cy="428.2" r="8.5" stroke-width="1.6"/>
<text class="tc" x="521.7" y="433.3" font-size="15.5" text-anchor="middle" textLength="8" lengthAdjust="spacingAndGlyphs">1</text>
<text class="t" x="415.5" y="452.7" font-size="15.6" textLength="95.5" lengthAdjust="spacingAndGlyphs">WL106041L(4)</text>
<circle class="l" cx="521.2" cy="447.5" r="8.5" stroke-width="1.6"/>
<text class="tc" x="521.2" y="452.6" font-size="15.5" text-anchor="middle" textLength="8" lengthAdjust="spacingAndGlyphs">2</text>
<text class="t" x="472.5" y="488.2" font-size="15.6" textLength="49.2" lengthAdjust="spacingAndGlyphs">236998</text>
<rect class="lw" x="566.7" y="484.7" width="8.7" height="4.6" rx="2.3" stroke-width="2.1"/>
<rect class="lw" x="530.5" y="483.9" width="28.7" height="6.2" rx="2.8" stroke-width="2.2"/>
<line class="l" x1="536.2" y1="483.9" x2="536.2" y2="490.1" stroke-width="2"/>
<line class="l" x1="546.3" y1="483.9" x2="546.3" y2="490.1" stroke-width="2"/>
<ellipse class="lw" cx="563.7" cy="487.0" rx="5.1" ry="6.5" stroke-width="2.4"/>
<ellipse cx="563.7" cy="487.0" rx="1.9" ry="1.8" fill="#666" stroke="#111" stroke-width="1.2"/>
<text class="t" x="643.3" y="460.2" font-size="15.6" textLength="49.7" lengthAdjust="spacingAndGlyphs">531395</text>
<text class="t" x="636.1" y="499.2" font-size="15.6" textLength="95.9" lengthAdjust="spacingAndGlyphs">WC106041L(2)</text>
<text class="t" x="567.9" y="526.7" font-size="15.6" textLength="73.9" lengthAdjust="spacingAndGlyphs">255206(4)</text>
<circle class="l" cx="650.5" cy="521.0" r="8.5" stroke-width="1.6"/>
<text class="tc" x="650.5" y="526.1" font-size="15.5" text-anchor="middle" textLength="8" lengthAdjust="spacingAndGlyphs">1</text>
<text class="t" x="543.3" y="545.8" font-size="15.6" textLength="98.4" lengthAdjust="spacingAndGlyphs">SH106161L(4)</text>
<circle class="l" cx="650.5" cy="540.4" r="8.5" stroke-width="1.6"/>
<text class="tc" x="650.5" y="545.5" font-size="15.5" text-anchor="middle" textLength="8" lengthAdjust="spacingAndGlyphs">2</text>
<text class="t" x="641.7" y="584.6" font-size="15.6" textLength="96.9" lengthAdjust="spacingAndGlyphs">BH604101L(2)</text>
<circle class="l" cx="748.0" cy="578.7" r="8.5" stroke-width="1.6"/>
<text class="tc" x="748.0" y="583.8" font-size="15.5" text-anchor="middle" textLength="8" lengthAdjust="spacingAndGlyphs">1</text>
<text class="t" x="649.8" y="604.0" font-size="15.6" textLength="88.7" lengthAdjust="spacingAndGlyphs">BH106071(2)</text>
<circle class="l" cx="748.0" cy="598.0" r="8.5" stroke-width="1.6"/>
<text class="tc" x="748.0" y="603.1" font-size="15.5" text-anchor="middle" textLength="8" lengthAdjust="spacingAndGlyphs">2</text>
<text class="t" x="60.3" y="784.5" font-size="15.6" textLength="49.7" lengthAdjust="spacingAndGlyphs">531394</text>
</svg></body></html>
